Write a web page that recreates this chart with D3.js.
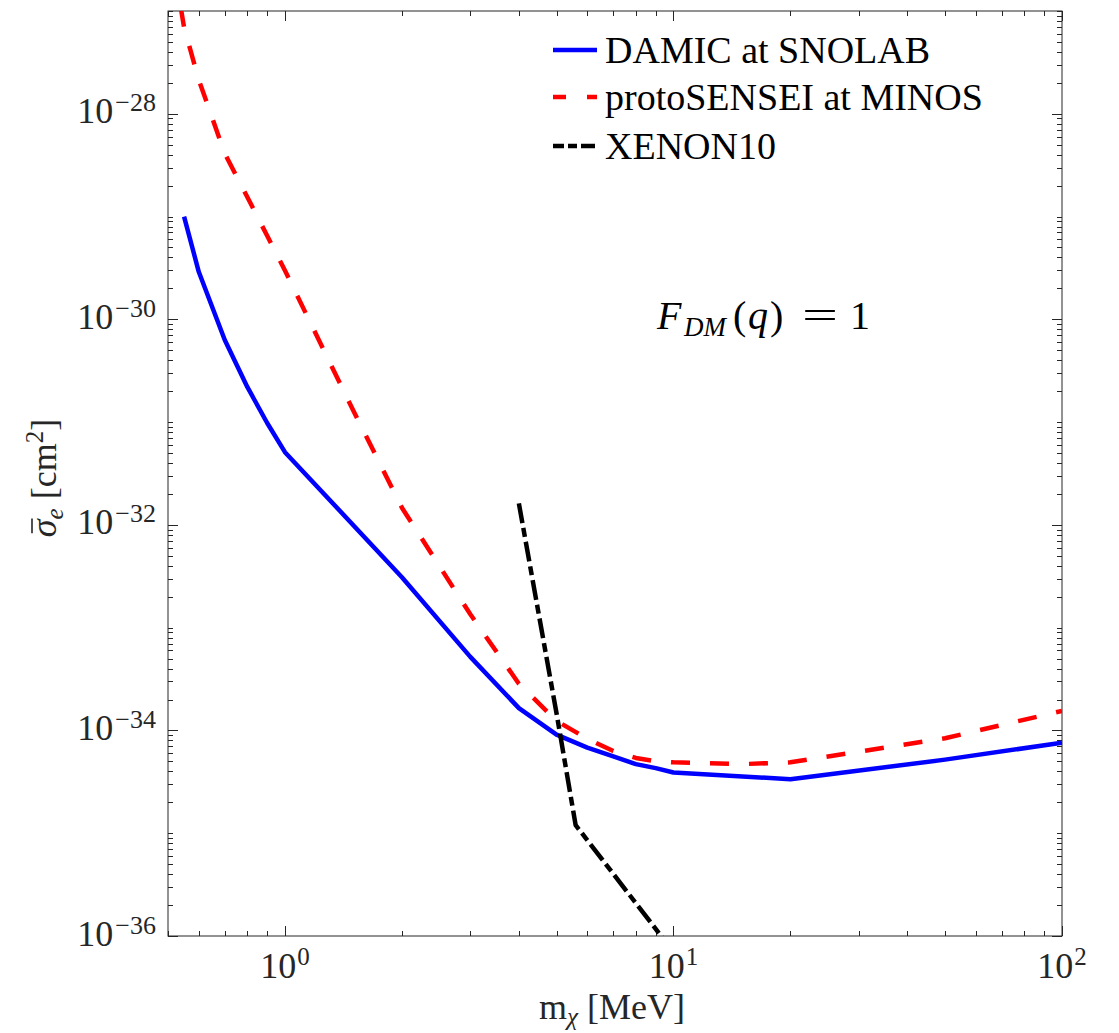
<!DOCTYPE html>
<html>
<head>
<meta charset="utf-8">
<script src="https://cdn.jsdelivr.net/npm/d3@7"></script>
<style>
  html, body { margin: 0; padding: 0; background: #fff; }
  svg { display: block; }
</style>
</head>
<body>
<svg id="chart" width="1119" height="1033"></svg>
<script>
// DM mass grid [MeV] and cross-section limits [cm^2]
const damicMass = [0.55, 0.6, 0.7, 0.8, 0.9, 1, 2, 3, 4, 5, 6, 7, 8, 9, 10, 20, 50, 100];
const damicSigma = [1.0e-29, 2.9e-30, 6.3e-31, 2.2e-31, 9.8e-32, 5.1e-32, 3.1e-33, 5.2e-34,
                    1.65e-34, 9.1e-35, 6.8e-35, 5.6e-35, 4.7e-35, 4.3e-35, 3.9e-35, 3.35e-35, 5.2e-35, 7.6e-35];

const sensMass = [0.5, 0.55, 0.6, 0.7, 0.8, 0.9, 1, 1.5, 2, 3, 4, 5, 6, 7, 8, 9, 10, 15, 20, 50, 100];
const sensSigma = [6e-27, 6.9e-28, 2.14e-28, 4.1e-29, 1.55e-29, 6.5e-30, 2.98e-30, 1.29e-31, 1.47e-32,
                   1.35e-33, 2.85e-34, 1.24e-34, 8.3e-35, 6.3e-35, 5.4e-35, 5.0e-35, 4.9e-35, 4.7e-35,
                   4.9e-35, 8.4e-35, 1.55e-34];

const xenonMass = [4, 5, 5.6, 10];
const xenonSigma = [1.62e-32, 1.47e-34, 1.2e-35, 7e-37];

const seriesNames = ["DAMIC at SNOLAB", "protoSENSEI at MINOS", "XENON10"];

// tick labels
const xTickValues = [1, 10, 100];
const xTickExp = ["0", "1", "2"];
const yTickValues = [1e-28, 1e-30, 1e-32, 1e-34, 1e-36];
const yTickExp = ["\u221228", "\u221230", "\u221232", "\u221234", "\u221236"];

const FONT = "'Liberation Serif', 'Times New Roman', 'DejaVu Serif', serif";
const svg = d3.select("#chart").attr("font-family", FONT);
const L = 168, R = 1062, T = 11, B = 936;
const axisColor = "#262626";

const x = d3.scaleLog().domain([0.5, 100]).range([L, R]);
const y = d3.scaleLog().domain([1e-36, 1e-27]).range([B, T]);

svg.append("defs").append("clipPath").attr("id", "plotClip")
  .append("rect").attr("x", L).attr("y", T).attr("width", R - L).attr("height", B - T);

// minor & major tick positions
const xMinor = [];
for (let d = -1; d <= 1; d++) for (let k = 2; k <= 9; k++) {
  const v = k * Math.pow(10, d);
  if (v >= 0.5 && v <= 100) xMinor.push(v);
}
const xMajor = [1, 10, 100];
const yMinor = [];
const yMajor = [];
for (let e = -36; e <= -27; e++) {
  const base = Math.pow(10, e);
  if (e % 2 === 0) yMajor.push(base); else yMinor.push(base);
  if (e < -27) for (let k = 2; k <= 9; k++) yMinor.push(k * base);
}

const ticks = svg.append("g").attr("stroke", axisColor).attr("stroke-width", 1);
function vTick(px, len) {
  ticks.append("line").attr("x1", px).attr("x2", px).attr("y1", B).attr("y2", B - len);
  ticks.append("line").attr("x1", px).attr("x2", px).attr("y1", T).attr("y2", T + len);
}
function hTick(py, len) {
  ticks.append("line").attr("y1", py).attr("y2", py).attr("x1", L).attr("x2", L + len);
  ticks.append("line").attr("y1", py).attr("y2", py).attr("x1", R).attr("x2", R - len);
}
xMinor.forEach(v => vTick(Math.round(x(v)) + 0.5, 5));
xMajor.forEach(v => vTick(Math.round(x(v)) + 0.5, 10));
yMinor.forEach(v => hTick(Math.round(y(v)) + 0.5, 5));
yMajor.forEach(v => hTick(Math.round(y(v)) + 0.5, 10));

// box
svg.append("rect").attr("x", L).attr("y", T).attr("width", R - L).attr("height", B - T)
  .attr("fill", "none").attr("stroke", axisColor).attr("stroke-width", 1);

// tick labels
const tl = svg.append("g").attr("fill", axisColor).attr("font-family", FONT);
xTickValues.forEach((v, i) => {
  const t = tl.append("text").attr("x", x(v)).attr("y", 978).attr("text-anchor", "middle")
    .attr("font-size", 36);
  t.append("tspan").text("10");
  t.append("tspan").attr("dy", -13).attr("dx", 1).attr("font-size", 25).text(xTickExp[i]);
});
yTickValues.forEach((v, i) => {
  const t = tl.append("text").attr("x", 156).attr("y", y(v) + 9.5).attr("text-anchor", "end")
    .attr("font-size", 36);
  t.append("tspan").text("10");
  t.append("tspan").attr("dy", -12).attr("dx", 2).attr("font-size", 26).text(yTickExp[i]);
});

// axis titles
const xt = svg.append("text").attr("x", 612).attr("y", 1019).attr("text-anchor", "middle")
  .attr("font-family", FONT).attr("font-size", 36).attr("fill", axisColor);
xt.append("tspan").text("m");
xt.append("tspan").attr("dy", 6).attr("font-size", 25).attr("font-style", "italic").text("\u03C7");
xt.append("tspan").attr("dy", -6).text(" [MeV]");

const ytg = svg.append("g").attr("transform", "translate(56,478) rotate(-90)");
const yt = ytg.append("text").attr("text-anchor", "middle").attr("font-family", FONT)
  .attr("font-size", 36).attr("fill", axisColor);
yt.append("tspan").attr("font-style", "italic").text("\u03C3");
yt.append("tspan").attr("dy", 7).attr("font-size", 25).attr("font-style", "italic").text("e");
yt.append("tspan").attr("dy", -7).text(" [cm");
yt.append("tspan").attr("dy", -13).attr("font-size", 25).text("2");
yt.append("tspan").attr("dy", 13).text("]");
// bar over sigma
const sb = yt.node().getExtentOfChar(0);
ytg.append("line").attr("x1", sb.x + 4).attr("x2", sb.x + sb.width + 1)
  .attr("y1", -24).attr("y2", -24).attr("stroke", axisColor).attr("stroke-width", 1.6);

// curves
const line = d3.line().x(d => x(d[0])).y(d => y(d[1]));
const plot = svg.append("g").attr("clip-path", "url(#plotClip)").attr("fill", "none");
const series = [
  { m: damicMass, s: damicSigma, color: "#0000ff", dash: null, legendDash: null },
  { m: sensMass, s: sensSigma, color: "#ff0000", dash: "19,20", legendDash: "13,21" },
  { m: xenonMass, s: xenonSigma, color: "#000000", dash: "20,5,9,5", legendDash: "11,4,9,4,14,4" }
];
series.forEach(sr => {
  plot.append("path").datum(d3.zip(sr.m, sr.s)).attr("d", line)
    .attr("stroke", sr.color).attr("stroke-width", 4.5)
    .attr("stroke-dasharray", sr.dash).attr("stroke-linejoin", "round");
});

// legend
const lg = svg.append("g");
const rowLine = [50, 97, 146];
series.forEach((sr, i) => {
  lg.append("line").attr("x1", 553).attr("x2", 597).attr("y1", rowLine[i]).attr("y2", rowLine[i])
    .attr("stroke", sr.color).attr("stroke-width", 4.5).attr("stroke-dasharray", sr.legendDash);
  lg.append("text").attr("x", 605).attr("y", rowLine[i] + 13).attr("font-family", FONT)
    .attr("font-size", 38).attr("fill", "#000").text(seriesNames[i]);
});

// form factor annotation
const ann = svg.append("g").attr("font-family", FONT).attr("font-size", 40).attr("fill", "#000");
const annParts = [
  { t: "F", x: 657, dy: 0, size: 40, italic: true },
  { t: "DM", x: 684, dy: 7, size: 27, italic: true },
  { t: "(", x: 733, dy: 0, size: 40, italic: false },
  { t: "q", x: 748, dy: 0, size: 40, italic: true },
  { t: ")", x: 770, dy: 0, size: 40, italic: false },
  { t: "=", x: 802, dy: 0, size: 40, italic: false, len: 36 },
  { t: "1", x: 850, dy: 0, size: 40, italic: false }
];
annParts.forEach(p => {
  const t = ann.append("text").attr("x", p.x).attr("y", 329 + p.dy).attr("font-size", p.size)
    .attr("font-style", p.italic ? "italic" : null).text(p.t);
  if (p.len) t.attr("textLength", p.len).attr("lengthAdjust", "spacingAndGlyphs");
});
</script>
</body>
</html>
